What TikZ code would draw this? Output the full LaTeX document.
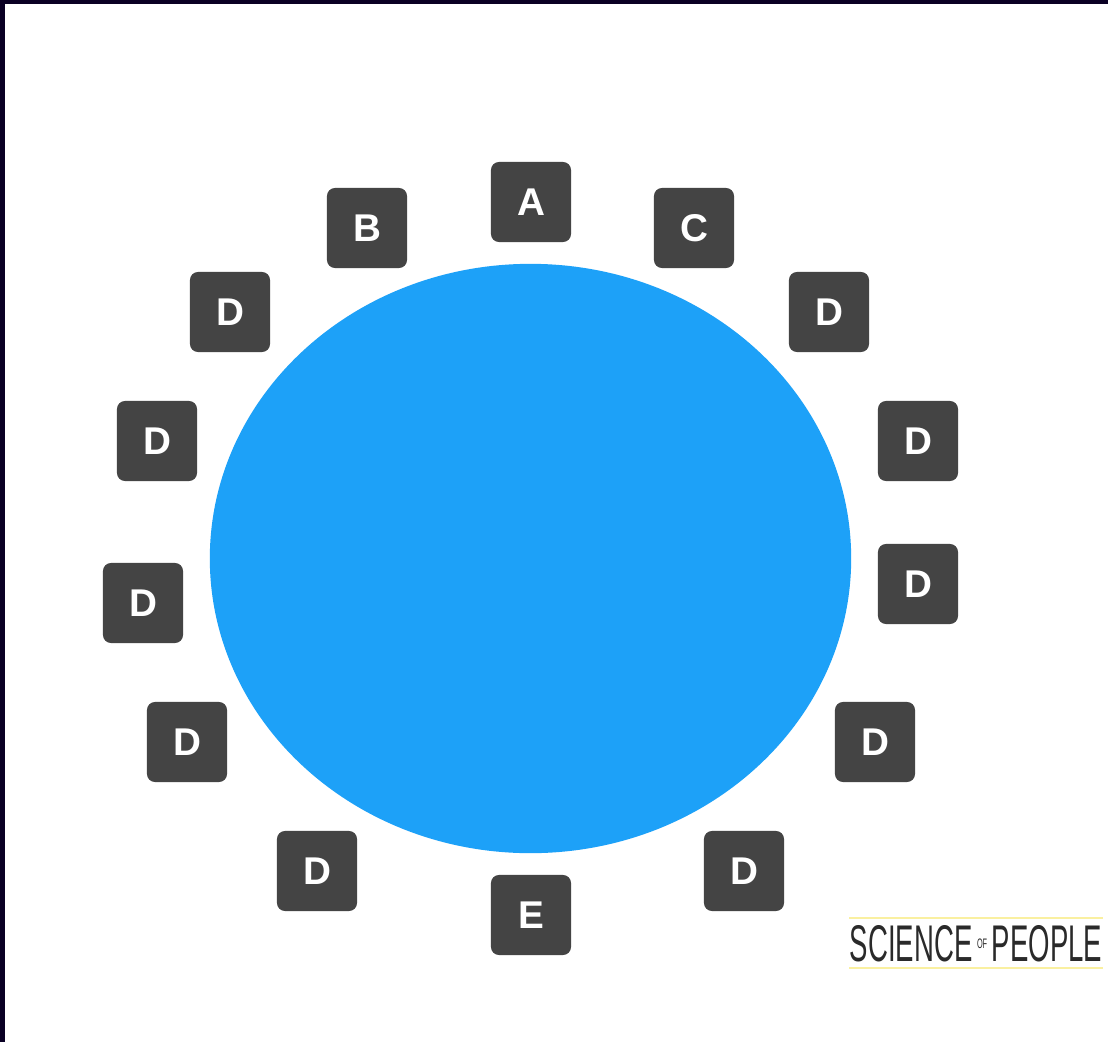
\documentclass[tikz,border=0pt]{standalone}
\usepackage{fontspec}
\usetikzlibrary{shapes.geometric}
\setmainfont{Liberation Sans}
\definecolor{tableblue}{HTML}{1DA1F8}
\definecolor{seatgray}{HTML}{444444}
\definecolor{framenavy}{HTML}{0A0024}
\definecolor{logoyellow}{HTML}{FAF0A0}
\definecolor{logogray}{HTML}{2A2A2A}
\begin{document}
\begin{tikzpicture}[x=0.01cm, y=-0.01cm,
  seat/.style={fill=seatgray, rounded corners=0.08cm, minimum size=0.8cm, inner sep=0pt,
    text=white, font=\bfseries\fontsize{11}{13}\selectfont}]
\useasboundingbox (0,0) rectangle (1108,1042);
\fill[white] (0,0) rectangle (1108,1042);
\fill[framenavy] (0,0) rectangle (5,1042);
\fill[framenavy] (0,0) rectangle (1108,4);
% table
\node[ellipse, fill=tableblue, minimum width=6.41cm, minimum height=5.89cm, inner sep=0pt] (table) at (530.5,558.5) {};
% seats
\node[seat] (a) at (531,202) {A};
\node[seat] (b) at (367,228) {B};
\node[seat] (c) at (694,228) {C};
\node[seat] (d1) at (230,312) {D};
\node[seat] (d2) at (829,312) {D};
\node[seat] (d3) at (157,441) {D};
\node[seat] (d4) at (918,441) {D};
\node[seat] (d5) at (143,603) {D};
\node[seat] (d6) at (918,584) {D};
\node[seat] (d7) at (187,742) {D};
\node[seat] (d8) at (875,742) {D};
\node[seat] (d9) at (317,871) {D};
\node[seat] (d10) at (744,871) {D};
\node[seat] (e) at (531,915) {E};
% logo
\draw[logoyellow, line width=0.025cm] (849,918) -- (1103,918);
\draw[logoyellow, line width=0.025cm] (849,968) -- (1103,968);
\node[anchor=center, inner sep=0pt, text=logogray] (logo) at (976,944)
  {\resizebox{2.52cm}{0.36cm}{\fontsize{15}{15}\selectfont SCIENCE\,\raisebox{0.25em}{\fontsize{4}{4}\selectfont OF}\,PEOPLE}};
\end{tikzpicture}
\end{document}
